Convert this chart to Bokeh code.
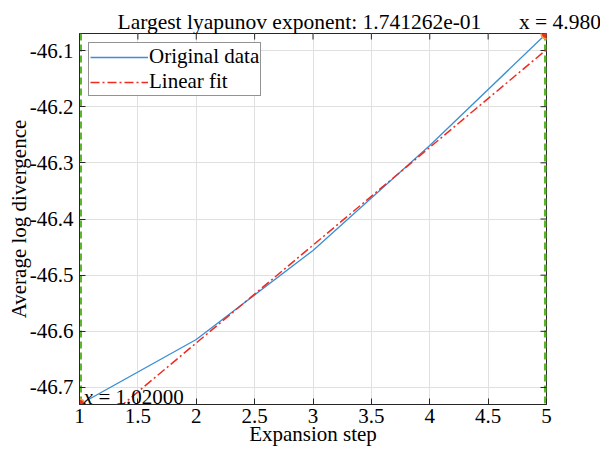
import math
from bokeh.plotting import figure
from bokeh.models import (Range1d, LinearAxis, FixedTicker, Grid, Label, Span,
                          Legend, LegendItem, Title)
from bokeh.embed import file_html
from bokeh.resources import INLINE

# Average log divergence per expansion step
steps = [1, 2, 3, 4, 5]
avg_log_div = [-46.7303, -46.6145, -46.4560, -46.2690, -46.0697]

# Linear fit over the expansion range (slope = largest Lyapunov exponent)
lyap_exp = 0.1741262
fit_intercept = -46.969
expansion_range = [1, 5]

x_ticks = [1, 1.5, 2, 2.5, 3, 3.5, 4, 4.5, 5]
x_tick_labels = ["1", "1.5", "2", "2.5", "3", "3.5", "4", "4.5", "5"]
y_ticks = [-46.7, -46.6, -46.5, -46.4, -46.3, -46.2, -46.1]
y_tick_labels = ["-46.7", "-46.6", "-46.5", "-46.4", "-46.3", "-46.2", "-46.1"]

title_text = "Largest lyapunov exponent: %.6e" % lyap_exp
tip_start_value = "= 1.02000"
tip_end = "x = 4.980"

SERIF = "Liberation Serif"
AXIS_COLOR = "#262626"
FONT = "21px"

p = figure(width=600, height=450, output_backend="svg", toolbar_location=None,
           x_range=Range1d(steps[0], steps[-1]),
           y_range=Range1d(min(avg_log_div), max(avg_log_div)),
           x_axis_type=None, y_axis_type=None, title=None,
           min_border_left=79, min_border_right=54,
           min_border_top=33, min_border_bottom=46)
p.outline_line_color = AXIS_COLOR
p.outline_line_width = 1
p.background_fill_color = "white"
p.border_fill_color = "white"

# title line, with the end-of-range data tip caption at its right
heading = title_text + "\u00a0" * 7 + tip_end
p.add_layout(Title(text=heading, align="left", offset=38, standoff=0,
                   text_font=SERIF, text_font_size="21.5px", text_color="black",
                   text_font_style="normal"), "above")


def make_axis(ticks, labels, standoff, label, label_standoff):
    ax = LinearAxis(ticker=FixedTicker(ticks=ticks, minor_ticks=[]),
                    major_label_overrides=dict(zip(ticks, labels)))
    ax.axis_line_color = AXIS_COLOR
    ax.major_tick_line_color = AXIS_COLOR
    ax.major_tick_in = 6
    ax.major_tick_out = 0
    ax.minor_tick_in = 0
    ax.minor_tick_out = 0
    ax.major_label_text_font = SERIF
    ax.major_label_text_font_size = FONT
    ax.major_label_text_color = "black"
    ax.major_label_standoff = standoff
    ax.axis_label = label
    ax.axis_label_text_font = SERIF
    ax.axis_label_text_font_size = FONT
    ax.axis_label_text_font_style = "normal"
    ax.axis_label_text_color = "black"
    ax.axis_label_standoff = label_standoff
    return ax


p.add_layout(make_axis(x_ticks, x_tick_labels, 4, "Expansion step", -4), "below")
p.add_layout(make_axis(y_ticks, y_tick_labels, 6, "Average log divergence", -4), "left")

for dim, ticks in ((0, x_ticks), (1, y_ticks)):
    p.add_layout(Grid(dimension=dim, ticker=FixedTicker(ticks=ticks),
                      grid_line_color="#e0e0e0", grid_line_width=1))

# Expansion range bounds (beneath the data)
for xb in expansion_range:
    p.add_layout(Span(location=xb, dimension="height", line_color="#5cb82a",
                      line_width=5, line_dash="7 4", level="underlay"))

# inward ticks along the top and right edges of the box
p.scatter(x_ticks, [p.y_range.end] * len(x_ticks), marker="dash", angle=math.pi / 2,
          size=12, line_color=AXIS_COLOR, line_width=1)
p.scatter([p.x_range.end] * len(y_ticks), y_ticks, marker="dash",
          size=12, line_color=AXIS_COLOR, line_width=1)

# Original data and its linear fit
r_data = p.line(steps, avg_log_div, line_color="#3a8fd6", line_width=1.3)
fit_y = [lyap_exp * x + fit_intercept for x in expansion_range]
r_fit = p.line(expansion_range, fit_y, line_color="#f02a20", line_width=1.5,
               line_dash="9 3 2 3")

# Data tips at the ends of the range
p.scatter([steps[0], steps[-1]], [avg_log_div[0], avg_log_div[-1]], size=11,
          fill_color="#e8321e", line_color="#f2a23a", line_width=1.5)

legend = Legend(items=[LegendItem(label="Original data", renderers=[r_data]),
                       LegendItem(label="Linear fit", renderers=[r_fit])],
                location="top_left")
legend.border_line_color = AXIS_COLOR
legend.border_line_width = 1.5
legend.background_fill_color = "white"
legend.background_fill_alpha = 1
legend.label_text_font = SERIF
legend.label_text_font_size = FONT
legend.label_text_color = "black"
legend.label_text_line_height = 0.9
legend.glyph_width = 58
legend.glyph_height = 20
legend.label_height = 20
legend.label_standoff = 1
legend.padding = 1
legend.spacing = 0
legend.margin = 9
p.add_layout(legend)


def add_text(txt, x, y, style="normal"):
    p.add_layout(Label(x=x, y=y, x_units="screen", y_units="screen", text=txt,
                       text_font=SERIF, text_font_size=FONT, text_color="black",
                       text_baseline="alphabetic", text_font_style=style))


# caption of the start-of-range data tip (offsets from the frame's lower-left corner)
add_text("x", 4, 8, style="italic")
add_text(tip_start_value, 19, 8)

open("out.html", "w").write(file_html(p, INLINE))
